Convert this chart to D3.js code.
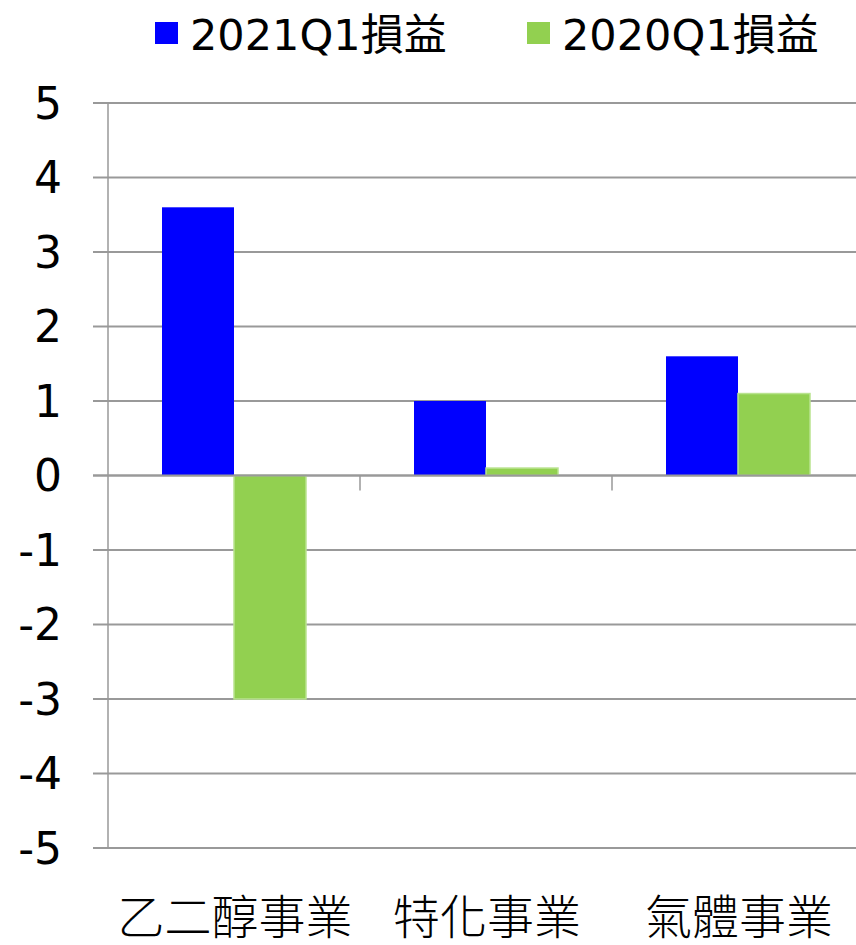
<!DOCTYPE html>
<html><head><meta charset="utf-8">
<script src="https://cdn.jsdelivr.net/npm/d3@7"></script>
<style>
html,body{margin:0;padding:0;background:#fff;}
text{font-family:"DejaVu Sans","Noto Sans CJK TC",sans-serif;fill:#000;}
.cjk{font-family:"DejaVu Sans","Noto Sans CJK TC",sans-serif;font-weight:300;}
</style></head>
<body>
<svg id="chart" width="856" height="945"></svg>
<script>
const categories = ["乙二醇事業", "特化事業", "氣體事業"];
const seriesNames = ["2021Q1損益", "2020Q1損益"];
const series2021 = [3.6, 1.0, 1.6];
const series2020 = [-3.0, 0.1, 1.1];
const yTicks = [5, 4, 3, 2, 1, 0, -1, -2, -3, -4, -5];
const colors = ["#0000FF", "#92D050"];
const strokes = ["#0000FF", "#B9E38F"];

(function(){
const svg = d3.select("#chart");
const plotLeft = 108, plotTop = 103, plotBottom = 848, band = 252;
const x = d3.scaleBand().domain(categories).range([plotLeft, plotLeft + band * categories.length]).paddingInner(0).paddingOuter(0);
const y = d3.scaleLinear().domain([-5, 5]).range([plotBottom, plotTop]);
const inner = d3.scaleBand().domain([0, 1]).range([54, band - 54]);

// gridlines
svg.append("g").selectAll("line").data(yTicks).join("line")
  .attr("x1", 93).attr("x2", 856)
  .attr("y1", d => y(d)).attr("y2", d => y(d))
  .attr("stroke", "#999").attr("stroke-width", 2);

// y axis line
svg.append("line").attr("x1", plotLeft).attr("x2", plotLeft).attr("y1", y(5)).attr("y2", y(-5))
  .attr("stroke", "#999").attr("stroke-width", 1.5);

// y labels
svg.append("g").selectAll("text").data(yTicks).join("text")
  .attr("x", 62).attr("y", d => y(d)).attr("dy", "0.36em")
  .attr("text-anchor", "end").attr("font-size", 44)
  .text(d => d);

// bars
const data = [series2021, series2020];
data.forEach((vals, si) => {
  svg.append("g").selectAll("rect").data(vals).join("rect")
    .attr("x", (d, i) => x(categories[i]) + inner(si))
    .attr("width", inner.bandwidth())
    .attr("y", d => y(Math.max(0, d)))
    .attr("height", d => Math.abs(y(d) - y(0)))
    .attr("fill", colors[si])
    .attr("stroke", strokes[si]).attr("stroke-width", si === 1 ? 1.5 : 0);
});

// zero line on top
svg.append("line").attr("x1", 93).attr("x2", 856).attr("y1", y(0)).attr("y2", y(0))
  .attr("stroke", "#999").attr("stroke-width", 2);

// category ticks
svg.append("g").selectAll("line").data(categories.slice(1)).join("line")
  .attr("x1", d => x(d)).attr("x2", d => x(d))
  .attr("y1", y(0)).attr("y2", y(0) + 15)
  .attr("stroke", "#999").attr("stroke-width", 1.5);

// category labels
svg.append("g").selectAll("text").data(categories).join("text")
  .attr("class", "cjk")
  .attr("x", d => x(d) + x.bandwidth() / 2 + 1).attr("y", 934)
  .attr("text-anchor", "middle").attr("font-size", 47)
  .text(d => d);

// legend
const legendX = [155, 527];
seriesNames.forEach((name, i) => {
  svg.append("rect").attr("x", legendX[i]).attr("y", 22).attr("width", 23).attr("height", 22)
    .attr("fill", colors[i]);
  svg.append("text").attr("x", legendX[i] + 35).attr("y", 50)
    .attr("font-size", 43).text(name);
});
})();
</script>
</body></html>
